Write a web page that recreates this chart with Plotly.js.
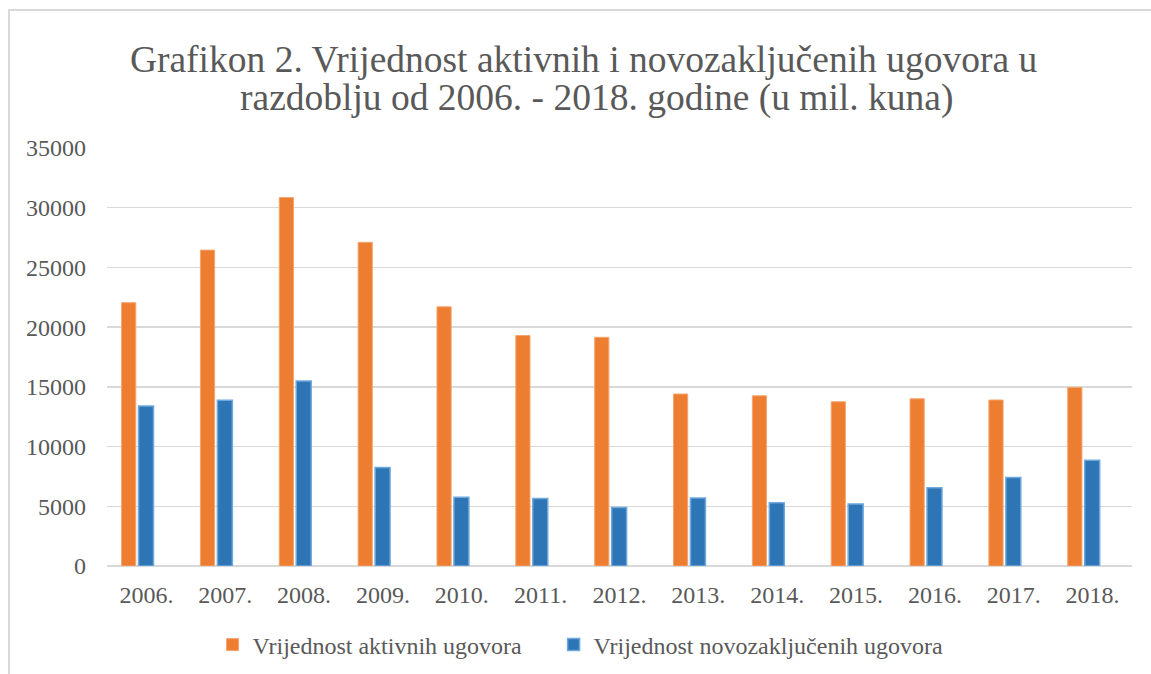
<!DOCTYPE html>
<html>
<head>
<meta charset="utf-8">
<script src="https://cdn.plot.ly/plotly-3.0.1.min.js"></script>
<style>
  html, body { margin: 0; padding: 0; background: #ffffff; overflow: hidden; }
  #frame { position: absolute; left: 8px; top: 9px; width: 1200px; height: 720px;
           border-top: 2px solid #d9d9d9; border-left: 2px solid #d9d9d9; pointer-events: none; z-index: 5; }
  #chart { position: absolute; left: 0; top: 0; width: 1151px; height: 674px; }
</style>
</head>
<body>
<div id="chart"></div>
<div id="frame"></div>
<script>
const years = ["2006.", "2007.", "2008.", "2009.", "2010.", "2011.", "2012.", "2013.", "2014.", "2015.", "2016.", "2017.", "2018."];
const aktivni = [22050, 26450, 30850, 27100, 21700, 19300, 19150, 14400, 14250, 13750, 14000, 13900, 14950];
const novozakljuceni = [13400, 13870, 15500, 8250, 5750, 5650, 4900, 5700, 5300, 5200, 6550, 7400, 8850];
const yTicks = [0, 5000, 10000, 15000, 20000, 25000, 30000, 35000];
const titleLine1 = "Grafikon 2. Vrijednost aktivnih i novozaključenih ugovora u";
const titleLine2 = "razdoblju od 2006. - 2018. godine (u mil. kuna)";

const serif = "Liberation Serif, Times New Roman, serif";
const grey = "#595959";

const traces = [
  {
    type: "bar", name: "Vrijednost aktivnih ugovora", x: years, y: aktivni,
    width: 0.18, offset: -0.315, legend: "legend",
    marker: { color: "#ED7D31", line: { color: "#F4A56E", width: 1 } },
    hoverinfo: "x+y"
  },
  {
    type: "bar", name: "Vrijednost novozaključenih ugovora", x: years, y: novozakljuceni,
    width: 0.19, offset: -0.1, legend: "legend2",
    marker: { color: "#2E75B6", line: { color: "#6FA8DC", width: 1.5 } },
    hoverinfo: "x+y"
  }
];

const legendBase = {
  orientation: "h", xanchor: "left",
  yref: "container", y: 0.043, yanchor: "middle",
  font: { family: serif, size: 24, color: grey },
  itemwidth: 30, bgcolor: "rgba(0,0,0,0)"
};

const layout = {
  width: 1151, height: 674,
  paper_bgcolor: "#ffffff", plot_bgcolor: "#ffffff",
  margin: { l: 107, r: 19, t: 148, b: 108 },
  font: { family: serif, color: grey, size: 24 },
  title: {
    text: titleLine1,
    font: { family: serif, size: 37.5, color: grey },
    xref: "container", x: 0.507, xanchor: "center",
    yref: "container", y: 0.9125, yanchor: "middle"
  },
  annotations: [{
    text: titleLine2, showarrow: false,
    xref: "paper", x: 0.478, xanchor: "center",
    yref: "paper", y: 1.1194, yanchor: "middle",
    font: { family: serif, size: 37.5, color: grey }
  }],
  xaxis: {
    type: "category", showgrid: false, showline: false, zeroline: false, automargin: false,
    ticks: "", tickfont: { family: serif, size: 24, color: grey },
    ticklabelstandoff: 12
  },
  yaxis: {
    range: [0, 35000], tickvals: yTicks, ticktext: yTicks.map(String), automargin: false,
    showgrid: true, gridcolor: "#d9d9d9", gridwidth: 1.5,
    zeroline: true, zerolinecolor: "#d9d9d9", zerolinewidth: 2,
    showline: false, ticks: "", tickfont: { family: serif, size: 24, color: grey },
    ticklabelstandoff: 20
  },
  showlegend: true,
  legend: Object.assign({}, legendBase, { x: 0.103 }),
  legend2: Object.assign({}, legendBase, { x: 0.4357 }),
  barmode: "group"
};

Plotly.newPlot("chart", traces, layout, { staticPlot: true, displayModeBar: false });
</script>
</body>
</html>
